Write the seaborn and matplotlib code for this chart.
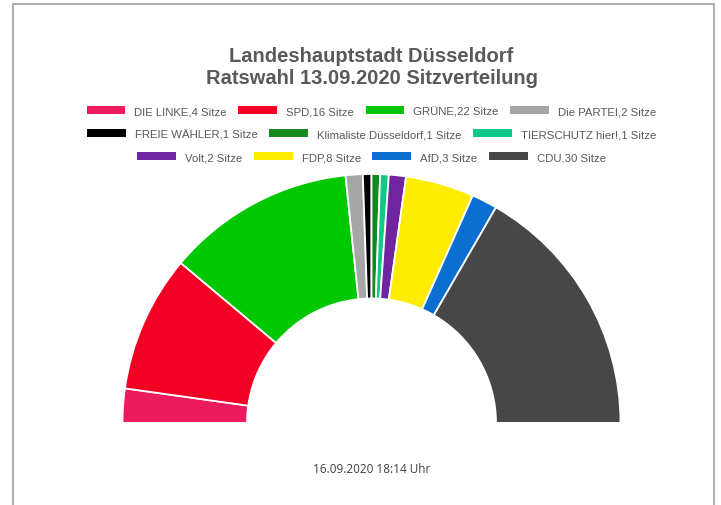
import matplotlib
matplotlib.use("Agg")
import matplotlib.pyplot as plt
import seaborn as sns
from matplotlib.patches import Patch
from matplotlib.lines import Line2D

parties = ["DIE LINKE", "SPD", "GRÜNE", "Die PARTEI", "FREIE WÄHLER",
           "Klimaliste Düsseldorf", "TIERSCHUTZ hier!", "Volt", "FDP", "AfD", "CDU"]
seats = [4, 16, 22, 2, 1, 1, 1, 2, 8, 3, 30]
colors = ["#EC1B5E", "#F50025", "#00C800", "#A6A6A6", "#000000",
          "#158A1E", "#10C887", "#7124A0", "#FFEC00", "#0A6FD1", "#474747"]
legend_rows = [[0, 1, 2, 3], [4, 5, 6], [7, 8, 9, 10]]

title = "Landeshauptstadt Düsseldorf\nRatswahl 13.09.2020 Sitzverteilung"
footer = "16.09.2020 18:14 Uhr"

sns.set_theme(style="white")
plt.rcParams["font.family"] = ["Liberation Sans", "DejaVu Sans"]

W, H = 721, 506
fig = plt.figure(figsize=(W / 100, H / 100), dpi=100)

# half donut: the bottom half is a transparent filler wedge
cx, cy, r = 371.5, H - 424, 249
ax = fig.add_axes([(cx - r) / W, cy / H, 2 * r / W, r / H])
ax.pie(seats + [sum(seats)], colors=colors + ["none"], startangle=180,
       counterclock=False, radius=1,
       wedgeprops=dict(width=0.5, edgecolor="white", linewidth=1.3))
ax.set_xlim(-1, 1)
ax.set_ylim(0, 1)
ax.set_aspect("equal")
ax.axis("off")

fig.text(cx / W, 1 - 47 / H, title, ha="center", va="top", fontsize=14.5,
         fontweight="bold", color="#595959", linespacing=1.2)

row_y = [112, 135, 158]
for row, y in zip(legend_rows, row_y):
    handles = [Patch(facecolor=colors[i], edgecolor="none") for i in row]
    labels = [f"{parties[i]},{seats[i]} Sitze" for i in row]
    fig.legend(handles, labels, loc="center", bbox_to_anchor=(cx / W, 1 - y / H),
               ncol=len(row), frameon=False, fontsize=8.2, labelcolor="#595959",
               handlelength=3.4, handleheight=0.75, handletextpad=0.8,
               columnspacing=1.0, borderpad=0, borderaxespad=0)

fig.text(cx / W, 1 - 470 / H, footer, ha="center", va="center", fontsize=8.5,
         color="#404040", family=["Open Sans", "DejaVu Sans"])

# outer frame (no bottom edge visible)
frame = dict(color="#B0B0B0", linewidth=1.5, transform=fig.transFigure)
fig.add_artist(Line2D([13 / W, 13 / W], [0, 1 - 5 / H], **frame))
fig.add_artist(Line2D([13 / W, 714 / W], [1 - 5 / H, 1 - 5 / H], **frame))
fig.add_artist(Line2D([714 / W, 714 / W], [0, 1 - 5 / H], **frame))

fig.savefig("out.png", dpi=100, facecolor="white")
